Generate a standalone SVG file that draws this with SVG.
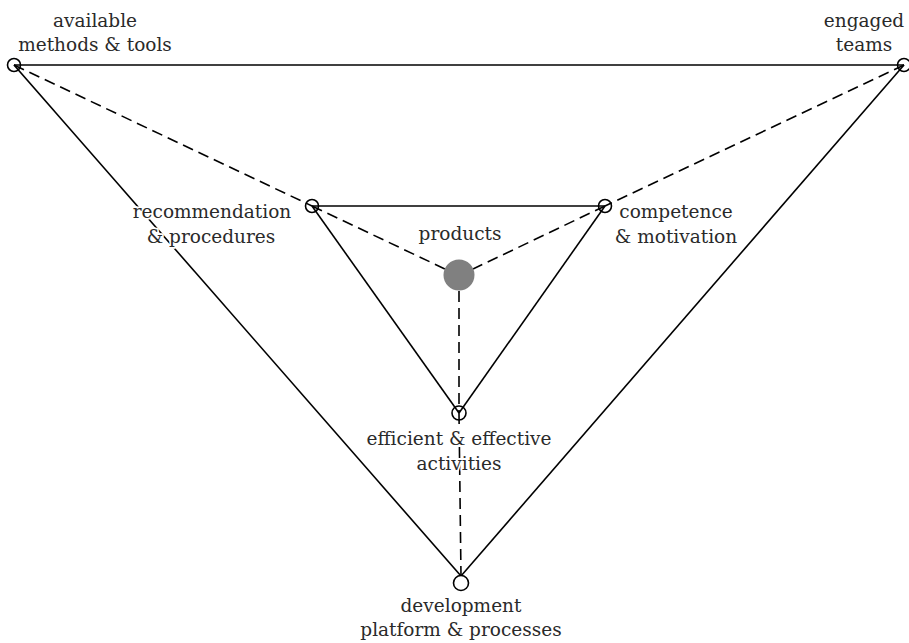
<svg xmlns="http://www.w3.org/2000/svg" width="909" height="643" viewBox="0 0 909 643">
<style>
.ln{stroke:#000;stroke-width:1.6;fill:none}
.ds{stroke:#000;stroke-width:1.6;fill:none;stroke-dasharray:11 6}
.nd{stroke:#000;stroke-width:1.6;fill:none}
.ndw{stroke:#000;stroke-width:1.6;fill:#fff}
.lb{font-family:"DejaVu Serif","Noto Serif",serif;font-size:18.5px;fill:#2a2a2a;text-anchor:middle;stroke:#fff;stroke-width:3.5;paint-order:stroke;stroke-linejoin:round}
</style>
<rect width="909" height="643" fill="#fff"/>
<g id="connectors">
<line class="ln" x1="14" y1="65" x2="904" y2="65"/>
<line class="ln" x1="14" y1="65" x2="461" y2="576"/>
<line class="ln" x1="904" y1="65" x2="461" y2="576"/>
<line class="ds" x1="14" y1="65" x2="312" y2="206"/>
<line class="ds" x1="904" y1="65" x2="605" y2="206"/>
<line class="ln" x1="312" y1="206" x2="605" y2="206"/>
<line class="ln" x1="312" y1="206" x2="459" y2="413"/>
<line class="ln" x1="605" y1="206" x2="459" y2="413"/>
<line class="ds" x1="312" y1="206" x2="445" y2="269"/>
<line class="ds" x1="605" y1="206" x2="473" y2="269"/>
<line class="ds" x1="459" y1="291" x2="459" y2="413"/>
<line class="ds" x1="459" y1="413" x2="461" y2="576"/>
</g>
<g id="node-methods">
<circle class="nd" cx="14" cy="65" r="6.5"/>
<text class="lb" x="95" y="27">available</text>
<text class="lb" x="95" y="51">methods &amp; tools</text>
</g>
<g id="node-teams">
<circle class="nd" cx="904" cy="65" r="6.5"/>
<text class="lb" x="864" y="27">engaged</text>
<text class="lb" x="864" y="51">teams</text>
</g>
<g id="node-recommendation">
<circle class="nd" cx="312" cy="206" r="6.5"/>
<text class="lb" x="212" y="218">recommendation</text>
<text class="lb" x="211" y="243">&amp; procedures</text>
</g>
<g id="node-competence">
<circle class="nd" cx="605" cy="206" r="6.5"/>
<text class="lb" x="676" y="218">competence</text>
<text class="lb" x="676" y="243">&amp; motivation</text>
</g>
<g id="node-products">
<circle cx="459" cy="275" r="15.5" fill="#808080"/>
<text class="lb" x="460" y="240">products</text>
</g>
<g id="node-activities">
<circle class="nd" cx="459" cy="413" r="7"/>
<text class="lb" x="459" y="445">efficient &amp; effective</text>
<text class="lb" x="459" y="470">activities</text>
</g>
<g id="node-platform">
<circle class="ndw" cx="461" cy="583" r="7.5"/>
<text class="lb" x="461" y="612">development</text>
<text class="lb" x="461" y="636">platform &amp; processes</text>
</g>
</svg>
